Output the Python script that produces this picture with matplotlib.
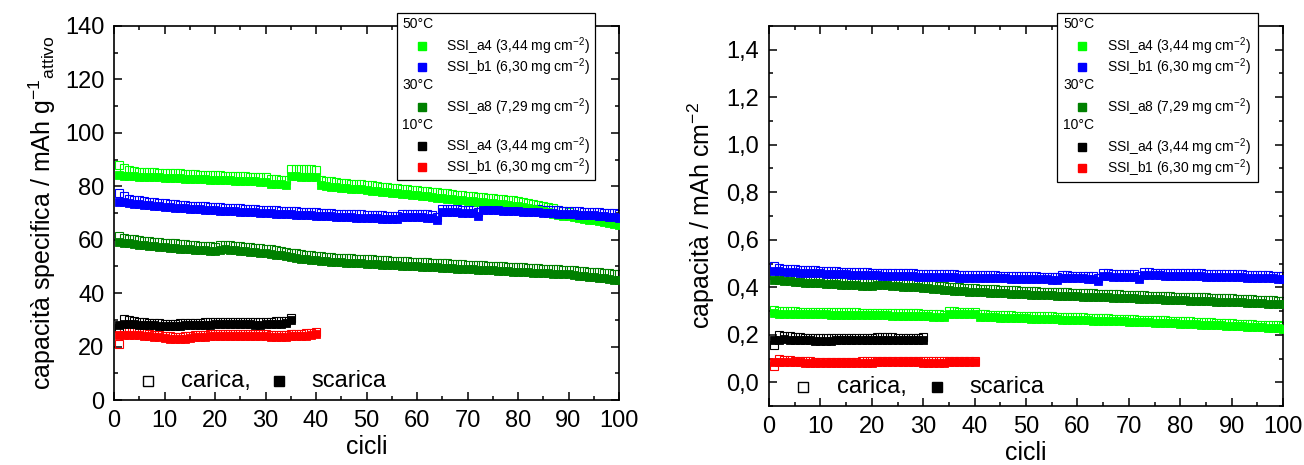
import matplotlib
matplotlib.use("Agg")
import matplotlib.pyplot as plt
from matplotlib.lines import Line2D
from matplotlib.patches import Rectangle
from matplotlib.ticker import MultipleLocator, FixedLocator, FixedFormatter

plt.rcParams['font.family'] = ['Liberation Sans', 'DejaVu Sans']
plt.rcParams['mathtext.fontset'] = 'custom'
plt.rcParams['mathtext.rm'] = 'Liberation Sans'
plt.rcParams['mathtext.it'] = 'Liberation Sans:italic'
plt.rcParams['axes.unicode_minus'] = False

# ---------------- data: left panel (mAh g-1) ----------------
cycles = list(range(1, 101))

a4_50_dis = [84.2, 84.0, 83.8, 83.7, 83.6, 83.5, 83.5, 83.4, 83.3, 83.2,
             83.1, 83.0, 83.0, 82.9, 82.8, 82.7, 82.6, 82.6, 82.5, 82.4,
             82.3, 82.2, 82.2, 82.1, 82.0, 81.9, 81.8, 81.8, 81.7, 81.5,
             81.0, 80.8, 80.7, 80.6, 83.8, 83.7, 83.6, 83.6, 83.5, 83.4,
             80.4, 80.1, 79.9, 79.7, 79.5, 79.3, 79.1, 78.9, 78.8, 78.6,
             78.4, 78.2, 78.0, 77.8, 77.6, 77.4, 77.2, 77.0, 76.8, 76.6,
             76.4, 76.2, 76.0, 75.8, 75.6, 75.4, 75.2, 75.0, 74.8, 74.6,
             74.4, 74.2, 74.0, 73.8, 73.6, 73.4, 73.2, 73.0, 72.8, 72.6,
             72.2, 71.8, 71.4, 71.0, 70.6, 70.2, 69.8, 69.4, 69.0, 68.7,
             68.4, 68.1, 67.8, 67.5, 67.2, 66.9, 66.5, 66.1, 65.8, 65.4]
a4_50_cha = [88.0, 86.8, 86.0, 85.6, 85.4, 85.3, 85.3, 85.2, 85.1, 85.0,
             84.9, 84.8, 84.8, 84.7, 84.6, 84.5, 84.4, 84.4, 84.3, 84.2,
             84.1, 84.0, 84.0, 83.9, 83.8, 83.7, 83.6, 83.6, 83.5, 83.3,
             82.8, 82.6, 82.5, 82.4, 86.5, 86.4, 86.4, 86.3, 86.3, 86.2,
             82.4, 82.1, 81.9, 81.6, 81.4, 81.2, 81.0, 80.8, 80.7, 80.5,
             80.3, 80.1, 79.9, 79.7, 79.5, 79.3, 79.1, 78.9, 78.7, 78.5,
             78.3, 78.1, 77.9, 77.7, 77.5, 77.3, 77.1, 76.9, 76.7, 76.5,
             76.3, 76.1, 75.9, 75.7, 75.5, 75.3, 75.1, 74.9, 74.7, 74.5,
             74.2, 73.8, 73.4, 73.0, 72.6, 72.2, 71.7, 71.2, 70.7, 70.2,
             69.8, 69.4, 69.0, 68.6, 68.2, 67.9, 67.6, 67.3, 67.0, 66.6]

b1_50_dis = [74.3, 74.0, 73.7, 73.4, 73.2, 73.0, 72.9, 72.8, 72.6, 72.4,
             72.2, 72.0, 71.8, 71.7, 71.6, 71.5, 71.4, 71.3, 71.2, 71.0,
             70.9, 70.8, 70.7, 70.6, 70.5, 70.4, 70.3, 70.2, 70.1, 70.0,
             69.9, 69.8, 69.7, 69.6, 69.5, 69.4, 69.3, 69.2, 69.1, 69.0,
             68.9, 68.8, 68.7, 68.6, 68.5, 68.4, 68.4, 68.3, 68.3, 68.2,
             68.1, 68.0, 67.9, 67.8, 67.7, 67.7, 68.6, 68.6, 68.5, 68.5,
             68.4, 68.3, 68.2, 67.2, 70.3, 70.3, 70.2, 70.2, 70.1, 70.1,
             70.0, 69.0, 71.2, 71.2, 71.1, 71.0, 70.9, 70.8, 70.7, 70.6,
             70.5, 70.4, 70.3, 70.2, 70.1, 70.0, 69.9, 69.8, 69.7, 69.6,
             69.5, 69.4, 69.3, 69.2, 69.1, 69.0, 68.8, 68.6, 68.4, 68.0]
b1_50_cha = [77.3, 76.2, 75.4, 75.0, 74.7, 74.4, 74.3, 74.1, 73.9, 73.7,
             73.5, 73.3, 73.1, 72.9, 72.8, 72.7, 72.6, 72.5, 72.4, 72.2,
             72.1, 72.0, 71.9, 71.8, 71.7, 71.6, 71.5, 71.4, 71.3, 71.2,
             71.1, 71.0, 70.9, 70.8, 70.7, 70.6, 70.5, 70.4, 70.3, 70.2,
             70.1, 70.0, 69.9, 69.8, 69.7, 69.6, 69.6, 69.5, 69.5, 69.4,
             69.3, 69.2, 69.1, 69.0, 68.9, 68.9, 69.8, 69.8, 69.7, 69.7,
             69.6, 69.5, 69.4, 68.4, 71.5, 71.5, 71.4, 71.4, 71.3, 71.3,
             71.2, 70.2, 72.4, 72.4, 72.3, 72.2, 72.1, 72.0, 71.9, 71.8,
             71.7, 71.6, 71.5, 71.4, 71.3, 71.2, 71.1, 71.0, 70.9, 70.8,
             70.7, 70.6, 70.5, 70.4, 70.3, 70.2, 70.1, 70.0, 69.9, 69.7]

a8_30_dis = [59.2, 58.9, 58.6, 58.4, 58.2, 58.0, 57.8, 57.6, 57.4, 57.2,
             57.0, 56.9, 56.7, 56.6, 56.4, 56.3, 56.1, 56.0, 55.8, 55.7,
             56.2, 56.4, 56.2, 56.0, 55.8, 55.6, 55.4, 55.3, 55.2, 55.0,
             54.7, 54.4, 54.1, 53.8, 53.5, 53.2, 52.9, 52.7, 52.5, 52.3,
             52.1, 51.9, 51.7, 51.6, 51.5, 51.4, 51.3, 51.2, 51.1, 51.0,
             50.9, 50.8, 50.7, 50.6, 50.5, 50.4, 50.3, 50.2, 50.1, 50.0,
             49.9, 49.8, 49.7, 49.6, 49.5, 49.4, 49.3, 49.2, 49.1, 49.0,
             48.9, 48.8, 48.7, 48.6, 48.5, 48.4, 48.3, 48.2, 48.1, 48.0,
             47.9, 47.8, 47.7, 47.6, 47.5, 47.4, 47.3, 47.2, 47.1, 47.0,
             46.7, 46.5, 46.3, 46.1, 45.9, 45.7, 45.5, 45.3, 45.1, 45.0]
a8_30_cha = [61.5, 60.8, 60.4, 60.1, 59.9, 59.7, 59.5, 59.3, 59.1, 58.9,
             58.7, 58.6, 58.4, 58.3, 58.1, 58.0, 57.8, 57.7, 57.5, 57.4,
             57.9, 58.1, 57.9, 57.7, 57.5, 57.3, 57.1, 57.0, 56.9, 56.7,
             56.4, 56.1, 55.8, 55.5, 55.2, 54.9, 54.6, 54.4, 54.2, 54.0,
             53.8, 53.6, 53.4, 53.3, 53.2, 53.1, 53.0, 52.9, 52.8, 52.7,
             52.6, 52.5, 52.4, 52.3, 52.2, 52.1, 52.0, 51.9, 51.8, 51.7,
             51.6, 51.5, 51.4, 51.3, 51.2, 51.1, 51.0, 50.9, 50.8, 50.7,
             50.6, 50.5, 50.4, 50.3, 50.2, 50.1, 50.0, 49.9, 49.8, 49.7,
             49.6, 49.5, 49.4, 49.3, 49.2, 49.1, 49.0, 48.9, 48.8, 48.7,
             48.5, 48.4, 48.2, 48.1, 47.9, 47.8, 47.6, 47.5, 47.3, 47.2]

cycles_a4_10 = list(range(1, 36))
a4_10_dis = [28.0, 28.3, 28.4, 28.3, 28.2, 28.1, 28.0, 27.9, 27.8, 27.7,
             27.7, 27.7, 27.8, 27.9, 28.0, 28.1, 28.2, 28.2, 28.2, 28.3,
             28.4, 28.4, 28.4, 28.3, 28.3, 28.3, 28.3, 28.2, 28.2, 28.3,
             28.4, 28.5, 28.6, 28.8, 29.8]
a4_10_cha = [27.0, 30.2, 29.8, 29.5, 29.3, 29.1, 28.9, 28.8, 28.7, 28.6,
             28.6, 28.6, 28.7, 28.8, 28.9, 29.0, 29.0, 29.1, 29.1, 29.2,
             29.3, 29.3, 29.3, 29.2, 29.2, 29.2, 29.2, 29.1, 29.1, 29.2,
             29.3, 29.4, 29.5, 29.7, 30.6]

cycles_b1_10 = list(range(1, 41))
b1_10_dis = [24.3, 24.5, 24.4, 24.3, 24.2, 24.0, 23.8, 23.6, 23.4, 23.2,
             23.0, 22.9, 22.9, 23.0, 23.2, 23.4, 23.6, 23.7, 23.8, 23.9,
             24.0, 24.0, 24.0, 24.0, 24.0, 24.0, 24.0, 24.0, 23.9, 23.8,
             23.7, 23.6, 23.6, 23.7, 23.8, 23.9, 24.0, 24.1, 24.3, 24.6]
b1_10_cha = [21.0, 26.5, 26.0, 25.6, 25.3, 25.0, 24.7, 24.5, 24.3, 24.0,
             23.8, 23.7, 23.7, 23.8, 24.0, 24.2, 24.4, 24.5, 24.6, 24.7,
             24.8, 24.8, 24.8, 24.8, 24.8, 24.8, 24.8, 24.8, 24.7, 24.6,
             24.5, 24.4, 24.4, 24.5, 24.6, 24.7, 24.8, 24.9, 25.1, 25.6]

# ---------------- data: right panel (mAh cm-2) ----------------
a4_50_dis_cm = [.290, .289, .289, .288, .288, .287, .287, .287, .286, .286,
                .286, .285, .285, .285, .284, .284, .284, .283, .283, .283,
                .282, .282, .282, .281, .281, .281, .280, .280, .280, .279,
                .277, .276, .276, .275, .288, .288, .287, .287, .287, .286,
                .276, .275, .274, .273, .272, .272, .271, .270, .270, .269,
                .268, .268, .267, .266, .266, .265, .264, .264, .263, .262,
                .262, .261, .260, .259, .259, .258, .257, .256, .256, .255,
                .254, .253, .253, .252, .251, .250, .250, .249, .248, .247,
                .246, .245, .244, .243, .242, .241, .240, .239, .238, .237,
                .236, .235, .234, .233, .232, .231, .230, .229, .228, .226]
a4_50_cha_cm = [.305, .300, .299, .298, .298, .297, .297, .297, .296, .296,
                .296, .295, .295, .295, .294, .294, .294, .293, .293, .293,
                .292, .292, .292, .291, .291, .291, .290, .290, .290, .289,
                .287, .286, .286, .285, .298, .298, .297, .297, .297, .296,
                .287, .286, .285, .284, .283, .283, .282, .281, .281, .280,
                .279, .279, .278, .277, .277, .276, .275, .275, .274, .273,
                .273, .272, .271, .270, .270, .269, .268, .267, .267, .266,
                .265, .264, .264, .263, .262, .261, .261, .260, .259, .258,
                .257, .256, .255, .254, .253, .252, .251, .250, .249, .248,
                .247, .246, .245, .244, .243, .242, .241, .240, .239, .237]

b1_50_dis_cm = [.470, .468, .466, .464, .463, .462, .461, .460, .459, .458,
                .457, .456, .455, .454, .454, .453, .452, .452, .451, .450,
                .450, .449, .448, .448, .447, .447, .446, .446, .445, .445,
                .444, .444, .443, .443, .442, .442, .441, .441, .440, .440,
                .439, .439, .438, .438, .437, .437, .436, .436, .435, .435,
                .434, .434, .433, .433, .432, .432, .438, .438, .437, .437,
                .437, .436, .436, .428, .446, .446, .445, .445, .445, .444,
                .444, .436, .451, .451, .450, .450, .449, .449, .448, .448,
                .447, .447, .446, .446, .445, .445, .444, .444, .443, .443,
                .442, .442, .441, .441, .440, .439, .438, .437, .436, .434]
b1_50_cha_cm = [.488, .482, .478, .476, .475, .474, .473, .472, .471, .470,
                .469, .468, .467, .466, .466, .465, .464, .464, .463, .462,
                .462, .461, .460, .460, .459, .459, .458, .458, .457, .457,
                .456, .456, .455, .455, .454, .454, .453, .453, .452, .452,
                .451, .451, .450, .450, .449, .449, .448, .448, .447, .447,
                .446, .446, .445, .445, .444, .444, .450, .450, .449, .449,
                .449, .448, .448, .440, .458, .458, .457, .457, .457, .456,
                .456, .448, .463, .463, .462, .462, .461, .461, .460, .460,
                .459, .459, .458, .458, .457, .457, .456, .456, .455, .455,
                .454, .454, .453, .453, .452, .451, .450, .449, .448, .446]

a8_30_dis_cm = [.432, .430, .428, .426, .424, .422, .420, .418, .417, .416,
                .414, .413, .412, .411, .410, .409, .408, .407, .406, .405,
                .408, .410, .408, .406, .404, .403, .402, .401, .400, .398,
                .396, .394, .392, .390, .388, .386, .384, .383, .382, .380,
                .379, .378, .377, .376, .375, .374, .373, .372, .371, .370,
                .369, .368, .367, .366, .366, .365, .364, .363, .362, .362,
                .361, .360, .359, .358, .358, .357, .356, .355, .354, .354,
                .353, .352, .351, .350, .350, .349, .348, .347, .346, .346,
                .345, .344, .343, .342, .342, .341, .340, .339, .338, .338,
                .337, .336, .335, .334, .333, .332, .331, .330, .329, .328]
a8_30_cha_cm = [.450, .446, .443, .441, .439, .437, .435, .433, .432, .431,
                .429, .428, .427, .426, .425, .424, .423, .422, .421, .420,
                .423, .425, .423, .421, .419, .418, .417, .416, .415, .413,
                .411, .409, .407, .405, .403, .401, .399, .398, .397, .395,
                .394, .393, .392, .391, .390, .389, .388, .387, .386, .385,
                .384, .383, .382, .381, .381, .380, .379, .378, .377, .377,
                .376, .375, .374, .373, .373, .372, .371, .370, .369, .369,
                .368, .367, .366, .365, .365, .364, .363, .362, .361, .361,
                .360, .359, .358, .357, .357, .356, .355, .354, .353, .353,
                .352, .351, .350, .349, .348, .347, .346, .345, .344, .343]

cycles_a4_10_cm = list(range(1, 31))
a4_10_dis_cm = [.178, .180, .181, .180, .179, .178, .177, .176, .175, .175,
                .175, .175, .176, .176, .177, .177, .178, .178, .178, .178,
                .179, .179, .179, .179, .178, .178, .178, .178, .178, .179]
a4_10_cha_cm = [.155, .200, .196, .193, .191, .189, .188, .187, .186, .185,
                .185, .185, .186, .186, .187, .187, .188, .188, .188, .188,
                .189, .189, .189, .189, .188, .188, .188, .188, .188, .189]

cycles_b1_10_cm = list(range(1, 41))
b1_10_dis_cm = [.085, .087, .086, .086, .085, .084, .083, .083, .082, .081,
                .080, .080, .080, .081, .081, .082, .082, .083, .083, .083,
                .084, .084, .084, .084, .084, .084, .084, .084, .084, .083,
                .083, .083, .083, .083, .084, .084, .084, .085, .085, .086]
b1_10_cha_cm = [.068, .096, .094, .092, .091, .090, .089, .088, .087, .086,
                .085, .085, .085, .086, .086, .087, .087, .088, .088, .088,
                .089, .089, .089, .089, .089, .089, .089, .089, .089, .088,
                .088, .088, .088, .088, .089, .089, .089, .090, .090, .091]

legend_headers = ["50°C", "30°C", "10°C"]
legend_labels = ["SSI_a4 (3,44 mg cm$^{\\mathregular{-2}}$)",
                 "SSI_b1 (6,30 mg cm$^{\\mathregular{-2}}$)",
                 "SSI_a8 (7,29 mg cm$^{\\mathregular{-2}}$)",
                 "SSI_a4 (3,44 mg cm$^{\\mathregular{-2}}$)",
                 "SSI_b1 (6,30 mg cm$^{\\mathregular{-2}}$)"]
colors = ["#00ff00", "#0000ff", "#008000", "#000000", "#ff0000"]

W, H = 1304, 465
fig = plt.figure(figsize=(W / 100, H / 100), dpi=100)


def rect_px(x0, y0, x1, y1):
    return [x0 / W, 1 - y1 / H, (x1 - x0) / W, (y1 - y0) / H]


def fx(x):
    return x / W


def fy(y):
    return 1 - y / H


axL = fig.add_axes(rect_px(114, 26, 619, 400))
axR = fig.add_axes(rect_px(769, 26, 1283, 406))

MS = 5.2


def plot_series(ax, x, dis, cha, c):
    ax.plot(x, dis, ls='none', marker='s', ms=MS, mfc=c, mec=c, mew=0.6, zorder=3)
    ax.plot(x, cha, ls='none', marker='s', ms=MS, mfc='none', mec=c, mew=0.8, zorder=2)


plot_series(axL, cycles, a4_50_dis, a4_50_cha, colors[0])
plot_series(axL, cycles, b1_50_dis, b1_50_cha, colors[1])
plot_series(axL, cycles, a8_30_dis, a8_30_cha, colors[2])
plot_series(axL, cycles_a4_10, a4_10_dis, a4_10_cha, colors[3])
plot_series(axL, cycles_b1_10, b1_10_dis, b1_10_cha, colors[4])

plot_series(axR, cycles, a4_50_dis_cm, a4_50_cha_cm, colors[0])
plot_series(axR, cycles, b1_50_dis_cm, b1_50_cha_cm, colors[1])
plot_series(axR, cycles, a8_30_dis_cm, a8_30_cha_cm, colors[2])
plot_series(axR, cycles_a4_10_cm, a4_10_dis_cm, a4_10_cha_cm, colors[3])
plot_series(axR, cycles_b1_10_cm, b1_10_dis_cm, b1_10_cha_cm, colors[4])

FS = 17
for ax in (axL, axR):
    ax.set_xlim(0, 100)
    ax.xaxis.set_major_locator(MultipleLocator(10))
    ax.xaxis.set_minor_locator(MultipleLocator(5))
    ax.tick_params(which='both', direction='in', top=True, right=True, width=1.1)
    ax.tick_params(which='major', length=6, labelsize=FS, pad=7)
    ax.tick_params(which='minor', length=3)
    for s in ax.spines.values():
        s.set_linewidth(1.2)
    ax.set_xlabel("cicli", fontsize=18, labelpad=2)

axL.set_ylim(0, 140)
axL.yaxis.set_major_locator(MultipleLocator(20))
axL.yaxis.set_minor_locator(MultipleLocator(10))
axL.set_ylabel("capacità specifica / mAh g$^{\\mathregular{-1}}{}_{\\mathregular{attivo}}$",
               fontsize=18, labelpad=5)

axR.set_ylim(-0.1, 1.5)
yt = [0.0, 0.2, 0.4, 0.6, 0.8, 1.0, 1.2, 1.4]
axR.yaxis.set_major_locator(FixedLocator(yt))
axR.yaxis.set_major_formatter(FixedFormatter([f"{v:.1f}".replace('.', ',') for v in yt]))
axR.yaxis.set_minor_locator(MultipleLocator(0.1))
axR.set_ylabel("capacità / mAh cm$^{\\mathregular{-2}}$", fontsize=18, labelpad=7)

# carica / scarica annotation
for ax, yv in ((axL, 7.0), (axR, -0.02)):
    ax.plot([6.7], [yv], ls='none', marker='s', ms=6.5, mfc='white', mec='black', mew=1.0, zorder=4)
    ax.text(13.3, yv, "carica,", fontsize=FS, va='center', ha='left')
    ax.plot([32.6], [yv], ls='none', marker='s', ms=6.5, mfc='black', mec='black', zorder=4)
    ax.text(39.0, yv, "scarica", fontsize=FS, va='center', ha='left')


# legends drawn as figure artists
def draw_legend(x0, x1, y0, y1, hx, mx, tx, rows):
    fig.add_artist(Rectangle((fx(x0), fy(y1)), fx(x1) - fx(x0), fy(y0) - fy(y1),
                             transform=fig.transFigure, facecolor='white',
                             edgecolor='black', lw=0.9, zorder=5))
    hy = [24, 85, 125]
    for h, yy in zip(legend_headers, hy):
        fig.text(fx(hx), fy(yy), h, fontsize=10, va='center', ha='left', zorder=6)
    for lab, c, yy in zip(legend_labels, colors, rows):
        fig.add_artist(Line2D([fx(mx)], [fy(yy)], transform=fig.transFigure, ls='none',
                              marker='s', ms=5.5, mfc=c, mec=c, zorder=6))
        fig.text(fx(tx), fy(yy), lab, fontsize=10, va='center', ha='left', zorder=6)


draw_legend(397, 595, 13, 180, 402, 422, 446, [46, 67, 107, 146, 167])
draw_legend(1057, 1258, 13, 182, 1063, 1082, 1107, [46, 67, 107, 147, 168])

fig.savefig("out.png", dpi=100)
